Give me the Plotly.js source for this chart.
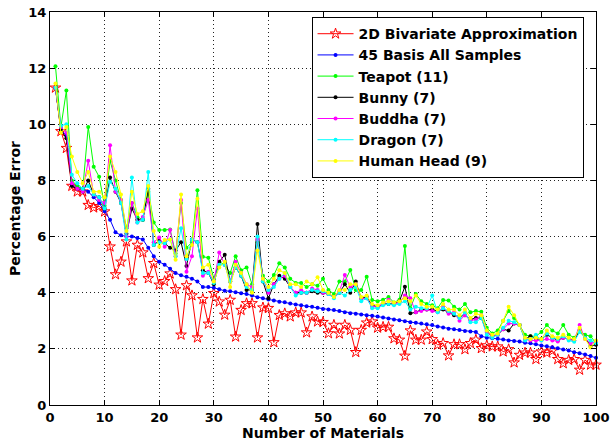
<!DOCTYPE html>
<html><head><meta charset="utf-8">
<script src="https://cdn.plot.ly/plotly-3.0.1.min.js"></script>
<style>html,body{margin:0;padding:0;background:#fff;}#chart{width:610px;height:445px;}</style>
</head><body><div id="chart"></div>
<script>
const xs = Array.from({length:100},(_,i)=>i+1);
const seriesNames = ["2D Bivariate Approximation","45 Basis All Samples","Teapot (11)","Bunny (7)","Buddha (7)","Dragon (7)","Human Head (9)"];
const bivariate = [11.3,9.75,9.15,7.8,7.6,7.6,7.12,7.03,7.08,6.89,5.64,4.65,5.1,5.82,4.43,5.7,5.43,4.51,5.05,4.28,4.41,4.68,4.12,2.5,4.26,3.9,2.4,3.77,2.89,3.98,3.68,3.21,3.74,2.43,3.38,3.62,3.62,2.4,3.47,3.45,2.23,3.2,3.26,3.15,3.29,3.29,2.58,3.15,2.97,2.95,2.55,2.85,2.54,2.85,2.67,1.88,2.67,2.93,2.97,2.75,2.78,2.78,2.37,2.32,1.75,2.65,2.32,2.32,2.61,2.34,2.14,2.2,1.76,2.16,2.16,1.98,2.2,2.32,2.02,2.12,2.08,2.08,1.9,1.98,1.51,1.78,1.86,1.86,1.63,1.9,1.86,1.93,1.63,1.48,1.6,1.63,1.25,1.6,1.43,1.43];
const basis45 = [11.3,9.8,9.6,7.85,7.75,7.7,7.6,7.4,7.2,6.9,6.6,6.15,6.05,6.0,6.0,5.95,5.9,5.6,5.3,5.1,5.0,4.85,4.7,4.62,4.57,4.5,4.4,4.2,4.2,4.18,4.12,4.07,4.05,4.02,3.98,3.95,3.9,3.84,3.8,3.76,3.72,3.68,3.66,3.62,3.58,3.55,3.52,3.5,3.46,3.42,3.4,3.38,3.35,3.3,3.27,3.25,3.22,3.2,3.18,3.15,3.12,3.08,3.05,3.02,2.98,2.95,2.93,2.9,2.88,2.85,2.8,2.76,2.72,2.7,2.67,2.64,2.62,2.6,2.45,2.4,2.38,2.36,2.33,2.3,2.28,2.26,2.22,2.2,2.16,2.12,2.09,2.06,2.02,1.98,1.94,1.88,1.84,1.8,1.75,1.68];
const teapot = [12.07,9.9,11.2,8.0,7.8,7.7,9.9,8.49,8.13,7.1,8.7,8.0,7.3,6.3,7.2,6.7,6.6,7.6,6.5,6.23,6.23,6.25,5.4,7.2,5.6,5.8,7.65,5.28,5.25,4.5,5.1,5.0,4.7,5.3,4.8,4.9,4.3,5.8,4.6,4.4,4.63,5.05,4.9,4.5,4.35,4.35,4.2,4.3,4.25,4.5,4.1,3.95,4.4,4.4,4.81,4.1,4.1,4.57,3.74,3.7,3.75,3.85,3.65,3.75,5.66,3.45,3.95,3.7,3.6,3.55,3.45,3.74,3.72,3.5,3.4,3.6,3.3,3.35,3.32,2.75,2.55,2.65,3.0,3.35,3.1,2.85,2.5,2.45,2.45,2.6,2.85,2.65,2.55,2.85,2.5,2.4,2.65,2.5,2.45,2.2];
const bunny = [11.3,9.8,9.5,7.8,7.7,7.6,8.0,7.5,7.4,7.0,8.1,7.6,7.2,6.1,7.0,6.6,6.6,7.7,5.7,5.85,5.76,5.6,5.5,5.8,4.95,5.9,5.8,4.8,4.7,4.3,5.1,5.35,4.4,4.9,4.6,4.1,4.1,6.45,4.4,3.8,4.3,4.6,4.5,4.2,4.0,4.0,4.0,4.05,4.0,4.0,3.95,3.85,4.0,4.3,4.0,4.4,3.8,3.85,3.55,3.5,3.6,3.6,3.6,3.7,4.21,3.27,3.3,3.4,3.4,3.4,3.35,3.4,3.3,3.2,3.15,3.2,3.05,3.1,3.1,2.6,2.45,2.5,2.7,2.65,2.9,2.85,2.35,2.45,2.35,2.35,2.5,2.4,2.3,2.4,2.35,2.3,2.65,2.4,2.1,2.15];
const buddha = [11.3,9.9,9.7,7.9,7.7,7.6,8.7,7.5,7.3,7.2,9.25,7.6,7.3,6.0,7.2,6.5,6.7,7.3,5.8,5.97,5.64,6.23,5.3,7.3,4.75,5.3,7.0,4.6,4.75,4.4,5.43,5.0,4.4,5.1,4.7,4.3,4.2,5.9,4.5,4.0,4.3,4.5,4.6,4.2,4.0,4.1,4.0,4.15,4.1,4.0,3.95,3.85,4.05,4.63,4.2,4.3,3.8,3.8,3.5,3.5,3.6,3.75,3.6,3.65,3.9,3.8,3.3,3.35,3.4,3.35,3.3,3.5,3.25,3.3,3.0,3.2,3.0,3.05,3.2,2.6,2.45,2.5,2.7,2.9,2.9,2.85,2.35,2.3,2.3,2.3,2.35,2.3,2.26,2.4,2.35,2.3,2.85,2.35,2.2,2.25];
const dragon = [11.3,9.95,10.0,8.2,7.9,7.7,7.8,7.5,7.4,7.0,7.95,7.7,7.2,5.9,8.1,6.5,6.6,8.3,5.7,5.8,5.76,5.9,5.3,6.3,5.2,5.9,5.8,4.7,4.7,4.35,5.0,5.0,4.4,4.9,4.6,4.2,4.1,6.0,4.4,4.1,4.2,4.5,4.7,4.2,3.9,4.0,4.0,4.1,4.05,4.05,3.95,3.8,4.0,3.9,4.1,4.2,3.7,3.8,3.45,3.45,3.55,3.6,3.55,3.6,3.7,3.4,3.5,3.45,3.45,3.9,3.3,3.45,3.35,3.25,3.1,3.3,2.95,2.95,3.1,2.5,2.4,2.5,2.75,3.0,2.95,2.85,2.3,2.35,2.5,2.3,2.55,2.4,2.35,2.45,2.3,2.25,2.6,2.4,2.3,2.2];
const humanHead = [11.45,9.7,9.9,8.85,8.3,7.9,8.3,7.6,7.6,7.4,8.85,8.3,7.5,6.2,7.6,6.8,6.9,7.8,6.2,5.64,5.88,5.9,5.17,7.5,5.3,5.7,7.35,4.9,5.0,4.4,4.9,5.1,4.2,5.0,4.7,4.3,4.0,5.5,4.5,4.2,4.5,4.8,4.7,4.3,4.3,4.2,4.4,4.3,4.55,4.1,4.0,3.85,4.1,4.1,4.3,4.3,3.85,3.9,3.6,3.55,3.65,3.7,3.65,3.7,3.8,3.7,3.9,3.6,3.5,3.5,3.4,3.6,3.4,3.4,3.2,3.4,3.1,3.25,3.2,2.65,2.5,2.55,3.0,3.5,3.2,2.85,2.4,2.35,2.4,2.35,2.65,2.45,2.4,2.5,2.4,2.35,2.75,2.35,2.05,2.3];
const xTicks = [0,10,20,30,40,50,60,70,80,90,100];
const yTicks = [0,2,4,6,8,10,12,14];

const dataArrays = [bivariate,basis45,teapot,bunny,buddha,dragon,humanHead];
const colors = ['#ff0000','#0000ff','#00ff00','#000000','#ff00ff','#00ffff','#ffff00'];
const traces = dataArrays.map((ys,i)=>({
  x: xs, y: ys, name: seriesNames[i], type:'scatter', mode:'lines+markers', cliponaxis:false,
  line:{color:colors[i], width:1},
  marker: i===0 ? {symbol:'star-open', size:8, color:colors[i], line:{width:1,color:colors[i]}}
                : {symbol:'circle', size:4, color:colors[i]}
}));

const F = '"DejaVu Sans", sans-serif';
const axisCommon = {
  showline:true, mirror:'ticks', linecolor:'#000', linewidth:1,
  ticks:'inside', ticklen:5, tickcolor:'#000',
  showgrid:true, gridcolor:'#222', griddash:'1px,3px', gridwidth:1,
  zeroline:false, ticklabeloverflow:'allow',
  tickfont:{family:F, size:13, color:'#000', weight:'bold'}
};
const layout = {
  width:610, height:445,
  margin:{l:50, r:14, t:12, b:40},
  paper_bgcolor:'#fff', plot_bgcolor:'#fff',
  showlegend:true,
  legend:{x:0.479, y:0.987, xanchor:'left', yanchor:'top', bgcolor:'#fff',
    bordercolor:'#000', borderwidth:1, font:{family:F, size:14, color:'#000', weight:'bold'},
    tracegroupgap:0, itemwidth:36},
  xaxis: Object.assign({}, axisCommon, {range:[0,100], tickvals:xTicks, ticktext:xTicks.map(String),
    title:{text:'Number of Materials', font:{family:F, size:14, color:'#000', weight:'bold'}, standoff:2}}),
  yaxis: Object.assign({}, axisCommon, {range:[0,14], tickvals:yTicks, ticktext:yTicks.map(String),
    title:{text:'Percentage Error', font:{family:F, size:14, color:'#000', weight:'bold'}, standoff:4}})
};
Plotly.newPlot('chart', traces, layout, {displayModeBar:false, staticPlot:true});
</script></body></html>
